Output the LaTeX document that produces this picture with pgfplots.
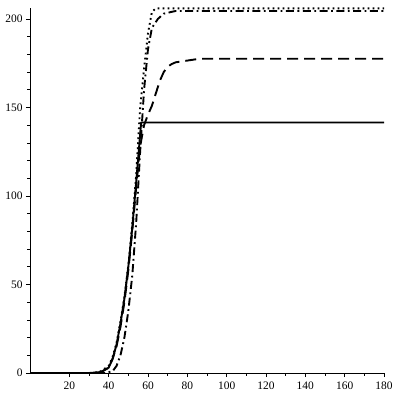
\documentclass[border=0pt]{standalone}
\usepackage{fontspec}
\setmainfont{Liberation Serif}
\usepackage{pgfplots}
\pgfplotsset{compat=1.18}

\begin{document}
\begin{tikzpicture}[x=1bp,y=1bp]
\path (0,0) rectangle (400,400);
\begin{axis}[
  at={(30bp,27bp)}, anchor=south west,
  scale only axis, width=354bp, height=365bp,
  xmin=0, xmax=180, ymin=0, ymax=206.2,
  axis lines*=left,
  clip=false,
  no marks,
  xtick={20,40,...,180}, ytick={0,50,...,200},
  minor x tick num=1, minor y tick num=4,
  tick align=outside,
  major tick length=4bp, minor tick length=2.5bp,
  tick style={black, line width=0.7pt},
  axis line style={line width=0.9pt},
  ticklabel style={font=\fontsize{11.5}{12}\selectfont},
  /pgf/number format/assume math mode=true,
  xticklabel style={yshift=-1bp},
  every axis plot/.append style={black, line width=1.9pt, line join=round},
]
% solid
\addplot[solid] coordinates {(0,0) (30,0) (36,0.5) (40,3) (42,8) (44,16) (46,28) (48,42) (50,60) (52,82) (54,108) (55.5,128) (56.5,141.5) (180,141.5)};
% dashed
\addplot[dash pattern=on 11bp off 6bp] coordinates {(0,0) (34,0) (36,0.5) (40,3) (42,8) (44,15) (46,26) (48,40) (50,58) (52,80) (54,105) (56,128) (58,140) (60,146) (62,151) (64,158) (66,165) (68,170) (70,173) (72,174.5) (74,175.5) (86,177.5) (180,177.5)};
% dash-dot
\addplot[dash pattern=on 8bp off 3.5bp on 1.8bp off 3.5bp] coordinates {(0,0) (38,0) (42,1) (44,4) (46,10) (48,20) (50,35) (52,55) (54,85) (56,125) (58,160) (60,183) (62,195) (65,200) (68,203) (74,204.5) (180,204.5)};
% dotted
\addplot[dash pattern=on 1.8bp off 3.2bp] coordinates {(0,0) (32,0) (36,1) (40,4) (42,9) (44,17) (46,29) (48,43) (50,61) (52,84) (54,112) (56,150) (58,172) (60,192) (62,204) (64,206) (180,206)};
\end{axis}
\end{tikzpicture}
\end{document}
